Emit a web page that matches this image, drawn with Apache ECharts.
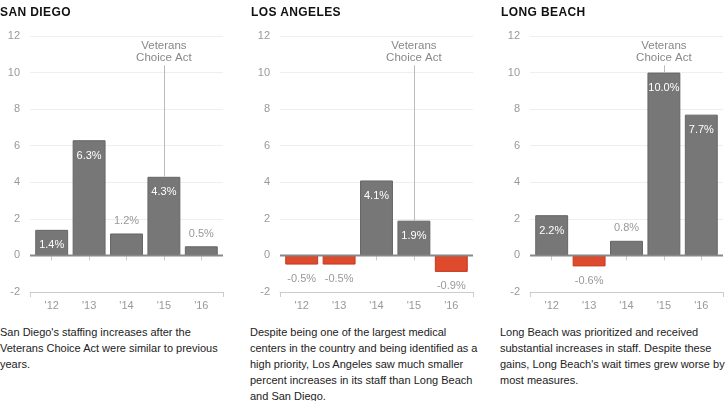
<!DOCTYPE html>
<html>
<head>
<meta charset="utf-8">
<script src="https://cdn.jsdelivr.net/npm/echarts@6/dist/echarts.min.js"></script>
<style>
  body { margin: 0; background: #fff; font-family: "Liberation Sans", Arial, Helvetica, sans-serif; }
  #wrap { position: relative; width: 725px; height: 401px; }
  #chart { position: absolute; left: 0; top: 0; width: 725px; height: 320px; }
  .head { position: absolute; top: 5px; font-size: 12px; font-weight: bold; letter-spacing: 0.4px; color: #111; line-height: 14px; }
  .note { position: absolute; top: 324px; white-space: nowrap; font-size: 11px; line-height: 16px; color: #222; }
</style>
</head>
<body>
<div id="wrap">
  <div id="chart"></div>
  <div class="head" style="left:0">SAN DIEGO</div>
  <div class="head" style="left:251px">LOS ANGELES</div>
  <div class="head" style="left:501px">LONG BEACH</div>
  <div class="note" style="left:0">San Diego's staffing increases after the<br>Veterans Choice Act were similar to previous<br>years.</div>
  <div class="note" style="left:250px">Despite being one of the largest medical<br>centers in the country and being identified as a<br>high priority, Los Angeles saw much smaller<br>percent increases in its staff than Long Beach<br>and San Diego.</div>
  <div class="note" style="left:500px">Long Beach was prioritized and received<br>substantial increases in staff. Despite these<br>gains, Long Beach's wait times grew worse by<br>most measures.</div>
</div>
<script>
// staffing change, percent
var years = ["'12", "'13", "'14", "'15", "'16"];
var sanDiego = [1.4, 6.3, 1.2, 4.3, 0.5];
var losAngeles = [-0.5, -0.5, 4.1, 1.9, -0.9];
var longBeach = [2.2, -0.6, 0.8, 10.0, 7.7];
var yTicks = [-2, 12, 2]; // min, max, step
var actYear = "'15";
var actLabelTop = 10.4;

var chart = echarts.init(document.getElementById('chart'));
var font = '"Liberation Sans", Arial, Helvetica, sans-serif';

function barItem(v) {
  var item = { value: v, itemStyle: {}, label: { show: true, formatter: v.toFixed(1) + '%' } };
  if (v < 0) {
    item.itemStyle = { color: '#de4a2c', borderColor: '#c63a20', borderWidth: 1 };
    item.label.position = 'bottom';
    item.label.distance = 9;
    item.label.color = '#999';
  } else if (v < 1.3) {
    item.label.position = 'top';
    item.label.distance = 7;
    item.label.color = '#999';
  } else {
    item.label.position = 'insideTop';
    item.label.distance = 10;
    item.label.color = '#fff';
  }
  return item;
}

var sets = [sanDiego, losAngeles, longBeach];
var grids = [], xAxes = [], yAxes = [], series = [];

sets.forEach(function (vals, i) {
  var x0 = 250 * i;
  // outer grid: gridlines, axis line, end ticks, zero line
  grids.push({ left: x0 + 30, top: 36, width: 193, height: 256 });
  // inner grid: bars
  grids.push({ left: x0 + 33, top: 36, width: 187, height: 256 });
  var go = 2 * i, gi = 2 * i + 1;

  xAxes.push({
    type: 'value', gridIndex: go, min: 0, max: 1, interval: 1,
    axisLine: { onZero: false, lineStyle: { color: '#ccc' } },
    axisTick: { show: true, length: 5, lineStyle: { color: '#ccc' } },
    axisLabel: { show: false }, splitLine: { show: false }
  });
  xAxes.push({
    type: 'category', gridIndex: gi, data: years,
    axisLine: { show: false },
    axisTick: { show: true, alignWithLabel: true, length: 5, lineStyle: { color: '#ccc' } },
    axisLabel: { color: '#999', fontSize: 11, margin: 8, fontFamily: font }
  });
  yAxes.push({
    type: 'value', gridIndex: go, min: yTicks[0], max: yTicks[1], interval: yTicks[2],
    axisLine: { show: false }, axisTick: { show: false },
    axisLabel: { color: '#999', fontSize: 11, margin: 10, fontFamily: font },
    splitLine: { lineStyle: { color: '#eee' } }
  });
  yAxes.push({
    type: 'value', gridIndex: gi, min: yTicks[0], max: yTicks[1], interval: yTicks[2],
    show: false
  });

  series.push({
    type: 'line', xAxisIndex: go, yAxisIndex: go,
    data: [[0, 0], [1, 0]], symbol: 'none', silent: true,
    lineStyle: { color: '#888', width: 2 }, z: 5
  });
  series.push({
    type: 'bar', xAxisIndex: gi, yAxisIndex: gi,
    data: vals.map(barItem), barWidth: '88%',
    itemStyle: { color: '#777', borderColor: '#666', borderWidth: 1 },
    label: { fontSize: 11, fontFamily: font },
    z: 3,
    markLine: {
      silent: true, symbol: 'none',
      lineStyle: { color: '#bbb', width: 1, type: 'solid' },
      label: {
        show: true, position: 'start', formatter: 'Veterans\nChoice Act',
        color: '#888', fontSize: 11.5, lineHeight: 12, fontFamily: font, distance: 1
      },
      data: [[
        { xAxis: actYear, yAxis: actLabelTop },
        { xAxis: actYear, yAxis: vals[years.indexOf(actYear)] }
      ]]
    }
  });
});

chart.setOption({
  animation: false,
  grid: grids,
  xAxis: xAxes,
  yAxis: yAxes,
  series: series
});
</script>
</body>
</html>
